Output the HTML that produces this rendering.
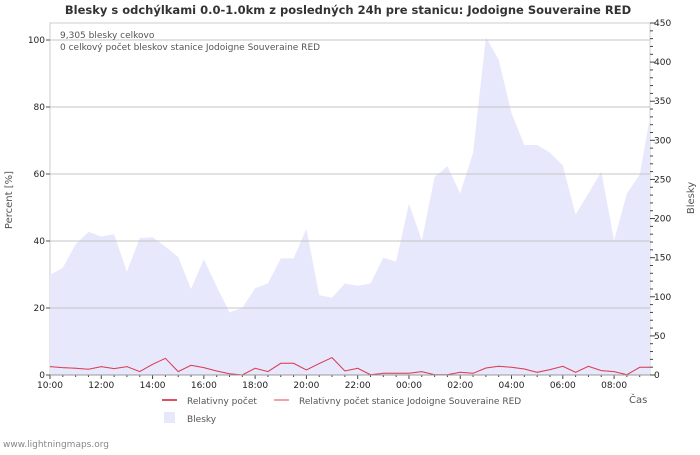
<!DOCTYPE html>
<html><head><meta charset="utf-8"><style>
body{margin:0;background:#fff;width:700px;height:450px;overflow:hidden;font-family:"Liberation Sans","DejaVu Sans",sans-serif}
svg text{font-family:"DejaVu Sans","Liberation Sans",sans-serif}
</style></head><body>
<svg id="c" width="700" height="450" xmlns="http://www.w3.org/2000/svg">
<text x="348" y="14" text-anchor="middle" font-size="11.5" font-weight="bold" fill="#333">Blesky s odchýlkami 0.0-1.0km z posledných 24h pre stanicu: Jodoigne Souveraine RED</text>
<g id="plot"></g>
<text x="60" y="38" font-size="9" fill="#555">9,305 blesky celkovo</text>
<text x="60" y="50" font-size="9" fill="#555">0 celkový počet bleskov stanice Jodoigne Souveraine RED</text>
<text transform="translate(12,200) rotate(-90)" text-anchor="middle" font-size="10" fill="#555">Percent   [%]</text>
<text transform="translate(694,198) rotate(-90)" text-anchor="middle" font-size="10" fill="#555">Blesky</text>
<text x="629" y="403" font-size="10" fill="#555">Čas</text>
<g>
<line x1="162" y1="400" x2="177" y2="400" stroke="#e05060" stroke-width="2"/>
<text x="187" y="404" font-size="9" fill="#555">Relativny počet</text>
<line x1="274" y1="400" x2="289" y2="400" stroke="#f4a0a8" stroke-width="2"/>
<text x="299" y="404" font-size="9" fill="#555">Relativny počet stanice Jodoigne Souveraine RED</text>
<rect x="164" y="412" width="11" height="11" fill="#e8e8fc"/>
<text x="187" y="422" font-size="9" fill="#555">Blesky</text>
</g>
<text x="3" y="447" font-size="9" fill="#888">www.lightningmaps.org</text>
</svg>
<script>
const strikes=[128,137,167,183,177,180,132,175,176,164,151,110,148,113,80,86,111,117,149,149,187,102,99,117,114,117,150,145,219,172,253,267,232,284,432,403,335,294,294,284,268,205,232,260,172,232,256,330];
const relative=[2.5,2.2,2.0,1.7,2.5,1.9,2.5,1.0,3.2,5.0,1.0,2.9,2.2,1.2,0.4,0,2.0,1.0,3.5,3.5,1.5,3.4,5.2,1.2,2.0,0.1,0.5,0.5,0.5,1.0,0.1,0.1,0.8,0.5,2.1,2.6,2.3,1.8,0.8,1.6,2.6,0.8,2.6,1.3,1.0,0.1,2.3,2.3];
const hours=strikes.map((v,i)=>i<47?i*0.5:23.4);
const xTicks=["10:00","12:00","14:00","16:00","18:00","20:00","22:00","00:00","02:00","04:00","06:00","08:00"];
const leftTicks=[0,20,40,60,80,100];
const rightTicks=[0,50,100,150,200,250,300,350,400,450];
const L=50,R=650,T=23,B=375;
const x=h=>L+h*25.64;
const yL=p=>B-p*3.35;
const yR=v=>B-v*(B-T)/450;
const NS="http://www.w3.org/2000/svg";
const g=document.getElementById('plot');
function mk(t,a){const e=document.createElementNS(NS,t);for(const k in a)e.setAttribute(k,a[k]);g.appendChild(e);return e;}
let e=mk('rect',{x:L,y:T,width:R-L,height:B-T,fill:'#fff',stroke:'#ccc'});


let d='M'+x(hours[0])+','+B;
strikes.forEach((v,i)=>{d+=' L'+x(hours[i]).toFixed(1)+','+yR(v).toFixed(1);});
d+=' L'+x(hours[hours.length-1]).toFixed(1)+','+B+' Z';
e=mk('path',{d:d,fill:'#e8e8fc'});


leftTicks.forEach(t=>{
 if(t>0){e=mk('line',{x1:L,x2:R,y1:yL(t),y2:yL(t),stroke:'#c4c4c4'});
 
 }
 e=mk('line',{x1:L-4,x2:L,y1:yL(t),y2:yL(t),stroke:'#555'});
 
 
 e=mk('text',{x:L-5,y:yL(t)+3,'text-anchor':'end','font-size':9,fill:'#222'});e.textContent=t;
 
 
});
for(let v=0;v<=450;v+=10){e=mk('line',{x1:R,x2:R+(v%50?3:5),y1:yR(v),y2:yR(v),stroke:'#444'});
 
 }
rightTicks.forEach(t=>{e=mk('text',{x:R+4,y:yR(t)+3,'font-size':9,fill:'#222'});e.textContent=t;
 
 });
for(let h=0;h<=23;h+=0.5){e=mk('line',{x1:x(h),x2:x(h),y1:B,y2:B+(h%2?2:4),stroke:'#444'});
 
 }
xTicks.forEach((t,i)=>{e=mk('text',{x:x(i*2),y:B+13,'text-anchor':'middle','font-size':9,fill:'#222'});e.textContent=t;
 
 });
const pts=relative.map((p,i)=>x(hours[i]).toFixed(1)+','+yL(p).toFixed(1)).join(' ');
e=mk('polyline',{points:pts,fill:'none',stroke:'#f4a0a8','stroke-width':1});


e=mk('polyline',{points:pts,fill:'none',stroke:'#d8405a','stroke-width':1});


e=mk('line',{x1:L,x2:R,y1:B,y2:B,stroke:'#999'});


</script>
</body></html>
